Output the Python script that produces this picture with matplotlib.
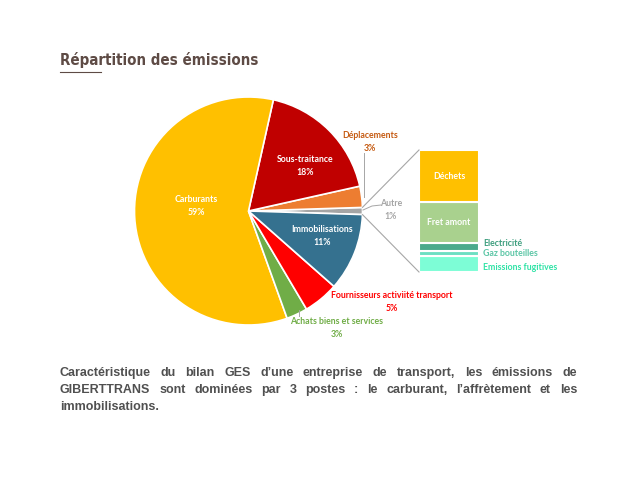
import numpy as np
import matplotlib.pyplot as plt

# main pie (order: counter-clockwise starting from the "Autre" slice)
labels = ['Autre', 'Déplacements', 'Sous-traitance', 'Carburants',
          'Achats biens et services', 'Fournisseurs activiité transport', 'Immobilisations']
values = [1, 3, 18, 59, 3, 5, 11]
colors = ['#A5A5A5', '#ED7D31', '#C00000', '#FFC000', '#70AD47', '#FF0000', '#35718F']

# breakdown of "Autre" (top to bottom)
sub_labels = ['Déchets', 'Fret amont', 'Electricité', 'Gaz bouteilles', 'Emissions fugitives']
sub_values = [0.43, 0.33, 0.07, 0.04, 0.13]
sub_colors = ['#FFC000', '#A9D18E', '#4BAA8C', '#6BDFC2', '#7DFDD6']
sub_text_colors = ['white', 'white', '#3E9E7E', '#5CC6A6', '#2FE3A6']

title = 'Répartition des émissions'
paragraph = ['Caractéristique du bilan GES d’une entreprise de transport, les émissions de',
             'GIBERTTRANS sont dominées par 3 postes : le carburant, l’affrètement et les',
             'immobilisations.']

H = 480
def py(y):
    return H - y

fig = plt.figure(figsize=(6.4, 4.8), dpi=100)
ax = fig.add_axes([0, 0, 1, 1])
renderer = fig.canvas.get_renderer()

lab_font = ['Lato', 'DejaVu Sans']

# pie
cx, cy, r = 248.5, py(211), 114
wedges, _ = ax.pie(values, colors=colors, startangle=-1.8, counterclock=True,
                   radius=r, center=(cx, cy),
                   wedgeprops=dict(edgecolor='white', linewidth=1.2))
ax.set_xlim(0, 640)
ax.set_ylim(0, H)
ax.set_aspect('equal')
ax.axis('off')

# labels inside the pie
for txt, (x, y) in [('Carburants\n59%', (196, 206)),
                    ('Sous-traitance\n18%', (305, 166)),
                    ('Immobilisations\n11%', (322, 236))]:
    ax.text(x, py(y), txt, color='white', fontsize=6.3, fontweight='bold',
            family=lab_font, ha='center', va='center', linespacing=1.5)

# labels outside the pie
outside = [('Déplacements\n3%', (370, 142), '#C55A11'),
           ('Autre\n1%', (391, 210), '#A5A5A5'),
           ('Fournisseurs activiité transport\n5%', (392, 302), '#FF0000'),
           ('Achats biens et services\n3%', (337, 328), '#70AD47')]
for txt, (x, y), c in outside:
    ax.text(x, py(y), txt, color=c, fontsize=6.3, fontweight='bold',
            family=lab_font, ha='center', va='center', linespacing=1.5)

# leader lines
lc = '#A6A6A6'
ax.plot([364, 364], [py(153), py(197)], color=lc, lw=0.7)
ax.plot([363, 372, 381], [py(210), py(206), py(205)], color=lc, lw=0.7)
ax.plot([299, 299], [py(310), py(316)], color=lc, lw=0.7)

# stacked bar for "Autre"
bx, bw = 449, 60
scale = 122
bottom = py(272)
seg = {}
for lab, v, c in reversed(list(zip(sub_labels, sub_values, sub_colors))):
    ax.bar(bx, v * scale, bottom=bottom, width=bw, color=c,
           edgecolor='white', linewidth=1.5)
    seg[lab] = bottom + v * scale / 2
    bottom += v * scale

side_y = {'Electricité': py(244), 'Gaz bouteilles': py(254), 'Emissions fugitives': py(267)}
for lab, tc in zip(sub_labels, sub_text_colors):
    if tc == 'white':
        ax.text(bx, seg[lab], lab, color='white', fontsize=6.3, fontweight='bold',
                family=lab_font, ha='center', va='center')
    else:
        ax.text(bx + bw / 2 + 4, side_y[lab], lab, color=tc, fontsize=6.3,
                fontweight='bold', family=lab_font, ha='left', va='center')

# connector lines from the "Autre" slice to the bar
w0 = wedges[0]
for ang, yb in [(w0.theta2, py(272) + scale), (w0.theta1, py(272))]:
    a = np.deg2rad(ang)
    ax.plot([cx + r * np.cos(a), bx - bw / 2], [cy + r * np.sin(a), yb],
            color='#A6A6A6', lw=0.8)

# title (condensed heavy font if available, else shrunk to roughly the reference width)
tcol = '#5E4B45'
tt = ax.text(60, py(60), title, color=tcol, fontsize=14, fontweight='heavy',
             family='DejaVu Sans', fontstretch='condensed', ha='left', va='center')
tw = tt.get_window_extent(renderer).width
if tw > 200:
    tt.set_fontsize(14 * 200 / tw)
ax.plot([60, 101], [py(72), py(72)], color=tcol, lw=0.8)

# justified paragraph (word by word, baselines on whole pixels)
style = dict(color='#505050', fontsize=9, fontweight='bold',
             family=['Liberation Sans', 'DejaVu Sans'], va='baseline', ha='left')
x0, x1 = 60, 577
for i, line in enumerate(paragraph):
    y = py(376 + 17 * i)
    if i == len(paragraph) - 1:
        ax.text(x0, y, line, **style)
        continue
    words = line.split(' ')
    ts = [ax.text(0, y, w, **style) for w in words]
    widths = [t.get_window_extent(renderer).width for t in ts]
    gap = (x1 - x0 - sum(widths)) / (len(words) - 1)
    x = x0
    for t, wd in zip(ts, widths):
        t.set_x(x)
        x += wd + gap

fig.savefig('out.png', dpi=100)
